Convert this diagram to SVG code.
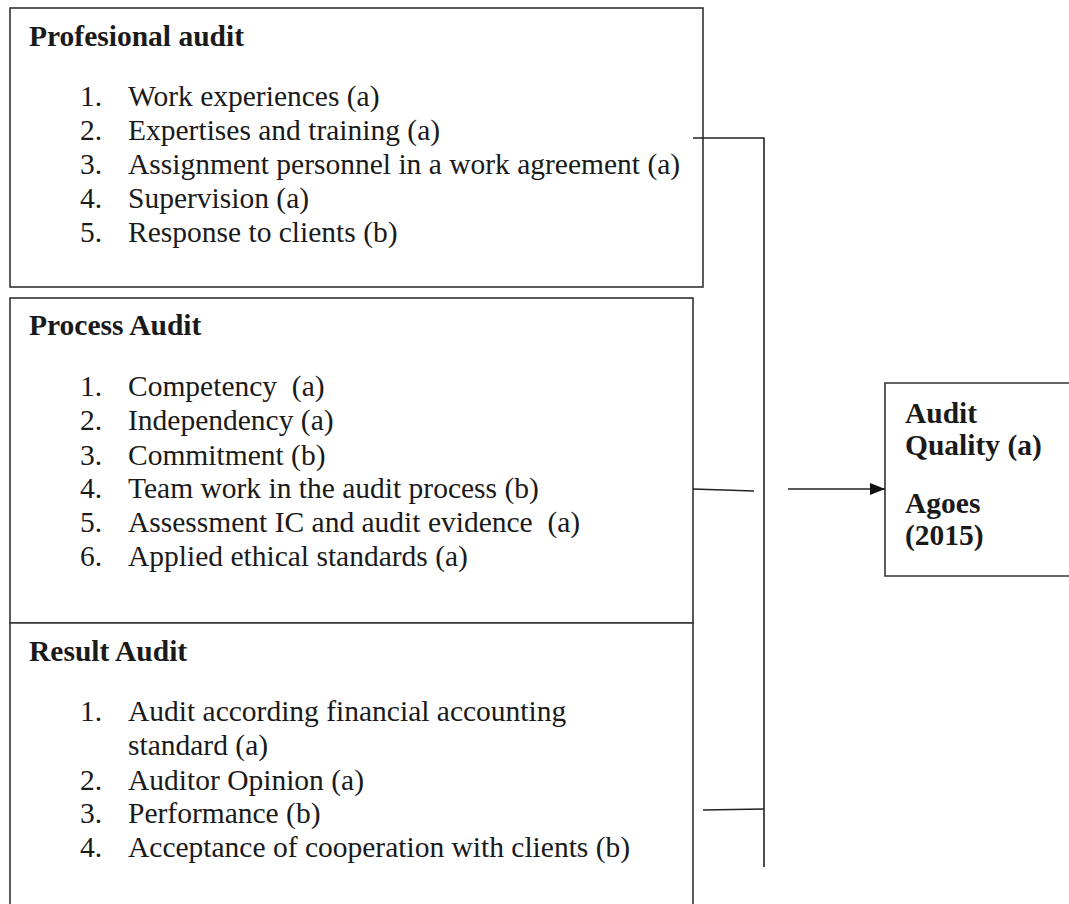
<svg xmlns="http://www.w3.org/2000/svg" width="1069" height="904" viewBox="0 0 1069 904">
<style>
.box{fill:#fff;stroke:#333;stroke-width:1.6}
.t{font-family:"Liberation Serif","Times New Roman",serif;font-size:29.5px;fill:#1a1a1a;white-space:pre}
.h{font-weight:bold}
.c{stroke:#222;stroke-width:1.6;fill:none}
</style>
<defs>
<marker id="arr" markerWidth="16" markerHeight="12" refX="15" refY="6" orient="auto" markerUnits="userSpaceOnUse">
<path d="M0,0 L15,6 L0,12 Z" fill="#111"/>
</marker>
</defs>
<rect width="1069" height="904" fill="#fff"/>
<g id="professional-audit">
<rect class="box" x="10" y="8" width="693" height="279"/>
<text class="t h" x="29" y="46">Profesional audit</text>
<text class="t" x="80" y="106">1.</text><text class="t" x="128" y="106">Work experiences (a)</text>
<text class="t" x="80" y="140">2.</text><text class="t" x="128" y="140">Expertises and training (a)</text>
<text class="t" x="80" y="174">3.</text><text class="t" x="128" y="174">Assignment personnel in a work agreement (a)</text>
<text class="t" x="80" y="208">4.</text><text class="t" x="128" y="208">Supervision (a)</text>
<text class="t" x="80" y="242">5.</text><text class="t" x="128" y="242">Response to clients (b)</text>
</g>
<g id="process-audit">
<rect class="box" x="10" y="298" width="683" height="325"/>
<text class="t h" x="29" y="335">Process Audit</text>
<text class="t" x="80" y="396">1.</text><text class="t" x="128" y="396">Competency  (a)</text>
<text class="t" x="80" y="430">2.</text><text class="t" x="128" y="430">Independency (a)</text>
<text class="t" x="80" y="465">3.</text><text class="t" x="128" y="465">Commitment (b)</text>
<text class="t" x="80" y="498">4.</text><text class="t" x="128" y="498">Team work in the audit process (b)</text>
<text class="t" x="80" y="532">5.</text><text class="t" x="128" y="532">Assessment IC and audit evidence  (a)</text>
<text class="t" x="80" y="566">6.</text><text class="t" x="128" y="566">Applied ethical standards (a)</text>
</g>
<g id="result-audit">
<path class="box" d="M10,910 L10,623 L693,623 L693,910"/>
<text class="t h" x="29" y="661">Result Audit</text>
<text class="t" x="80" y="721">1.</text><text class="t" x="128" y="721">Audit according financial accounting</text>
<text class="t" x="128" y="755">standard (a)</text>
<text class="t" x="80" y="790">2.</text><text class="t" x="128" y="790">Auditor Opinion (a)</text>
<text class="t" x="80" y="823">3.</text><text class="t" x="128" y="823">Performance (b)</text>
<text class="t" x="80" y="857">4.</text><text class="t" x="128" y="857">Acceptance of cooperation with clients (b)</text>
</g>
<g id="audit-quality">
<path class="box" d="M1075,383 L885,383 L885,576 L1075,576"/>
<text class="t h" x="905" y="423">Audit</text>
<text class="t h" x="905" y="455">Quality (a)</text>
<text class="t h" x="905" y="513">Agoes</text>
<text class="t h" x="905" y="545">(2015)</text>
</g>
<g id="connectors">
<path class="c" d="M693,138 L764,138 L764,867"/>
<path class="c" d="M693,489 L754,491"/>
<path class="c" d="M703,810 L764,809"/>
<path class="c" d="M788,489 L885,489" marker-end="url(#arr)"/>
</g>
</svg>
